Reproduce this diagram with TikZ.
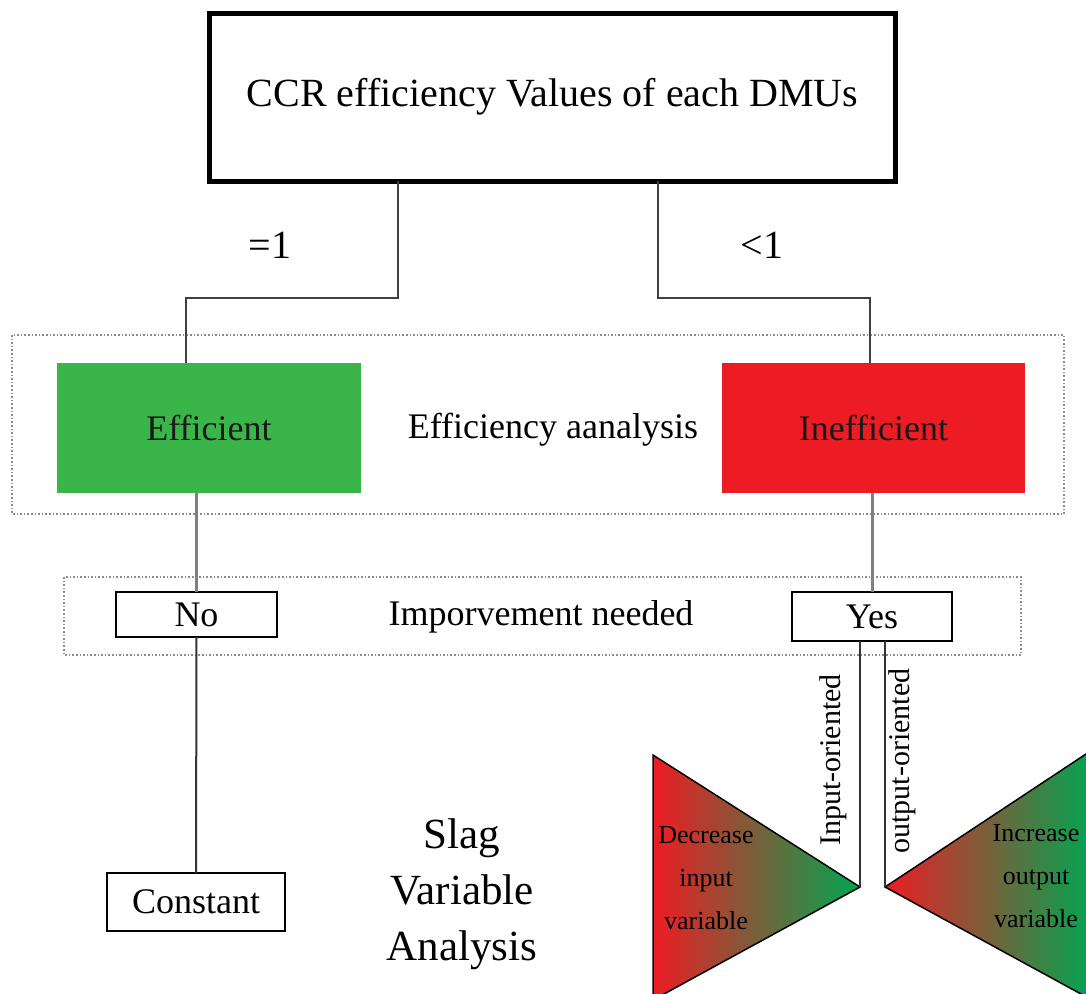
\documentclass[tikz,border=0pt]{standalone}
\usepackage{fontspec}
\setmainfont{Liberation Serif}
\definecolor{effgreen}{HTML}{3AB54A}
\definecolor{inred}{HTML}{ED1C24}
\definecolor{trigreen}{HTML}{00A651}
\definecolor{trired}{HTML}{ED1C24}
\begin{document}
\begin{tikzpicture}[x=1pt,y=-1pt,
  every node/.style={inner sep=0pt,outer sep=0pt},
  topbox/.style={draw=black,line width=5pt,minimum width=686pt,minimum height=168pt,font=\fontsize{40}{48}\selectfont},
  colbox/.style={minimum width=#1,minimum height=130pt,font=\fontsize{36}{43}\selectfont,text=black!90},
  smallbox/.style={draw=black,line width=2pt,font=\fontsize{36}{43}\selectfont},
  thinconn/.style={draw=black!75,line width=1.6pt},
  grayconn/.style={draw=black!50,line width=3pt},
  darkconn/.style={draw=black!80,line width=2pt},
  frame/.style={draw=black!45,dotted,line width=1.6pt},
  lbl/.style={font=\fontsize{36}{43}\selectfont},
  bigl/.style={font=\fontsize{40}{48}\selectfont},
  vlbl/.style={rotate=90,font=\fontsize{30}{36}\selectfont},
  trilbl/.style={align=center,font=\fontsize{26}{43}\selectfont,text=black}
]
\useasboundingbox (0,0) rectangle (1086,993);

% frames
\draw[frame] (12,335) rectangle (1064,514);
\draw[frame] (64,577) rectangle (1021,655);

% top box
\node[topbox] (top) at (552.5,97) {CCR efficiency Values of each DMUs};

% level 2
\node[colbox=304pt,fill=effgreen] (eff) at (209,428) {Efficient};
\node[colbox=303pt,fill=inred] (ineff) at (873.5,428) {Inefficient};
\node[lbl] (ea) at (553,430) {Efficiency aanalysis};

% level 3
\node[smallbox,minimum width=161pt,minimum height=45pt] (no) at (196.5,614.5) {No};
\node[smallbox,minimum width=160pt,minimum height=49pt] (yes) at (872,616.5) {Yes};
\node[lbl] (imp) at (541,617) {Imporvement needed};

% labels
\node[bigl] (eq1) at (270,245) {=1};
\node[bigl] (lt1) at (762,245) {<1};

% constant
\node[smallbox,minimum width=178pt,minimum height=58pt] (const) at (196,902) {Constant};
\node[align=center,font=\fontsize{43}{56}\selectfont] (slag) at (462,894) {Slag\\Variable\\Analysis};

% connectors from top
\coordinate (l1) at (398,298);
\coordinate (l2) at (186,298);
\coordinate (r1) at (658,298);
\coordinate (r2) at (870,298);
\draw[thinconn] (top.south -| l1) -- (l1) -- (l2) -- (l2 |- eff.north);
\draw[thinconn] (top.south -| r1) -- (r1) -- (r2) -- (r2 |- ineff.north);

% efficient/inefficient to no/yes
\draw[grayconn] (no.north |- eff.south) -- (no.north);
\draw[grayconn] (yes.north |- ineff.south) -- (yes.north);
\draw[darkconn] (no.south) -- (const.north);

% triangles
\coordinate (ta) at (860,887);
\coordinate (tb) at (885,887);
\draw[black,line width=1.5pt,left color=trired,right color=trigreen]
  (653,755) -- (ta) -- (653,1000) -- cycle;
\draw[black,line width=1.5pt,left color=trired,right color=trigreen]
  (tb) -- (1092,750) -- (1092,1000) -- cycle;
\draw[darkconn] (yes.south -| ta) -- (ta);
\draw[darkconn] (yes.south -| tb) -- (tb);

\node[vlbl] (inor) at (833,760) {Input-oriented};
\node[vlbl] (outor) at (902,761) {output-oriented};

\node[trilbl] (dec) at (706,878) {Decrease\\input\\variable};
\node[trilbl] (inc) at (1036,876) {Increase\\output\\variable};
\end{tikzpicture}
\end{document}
